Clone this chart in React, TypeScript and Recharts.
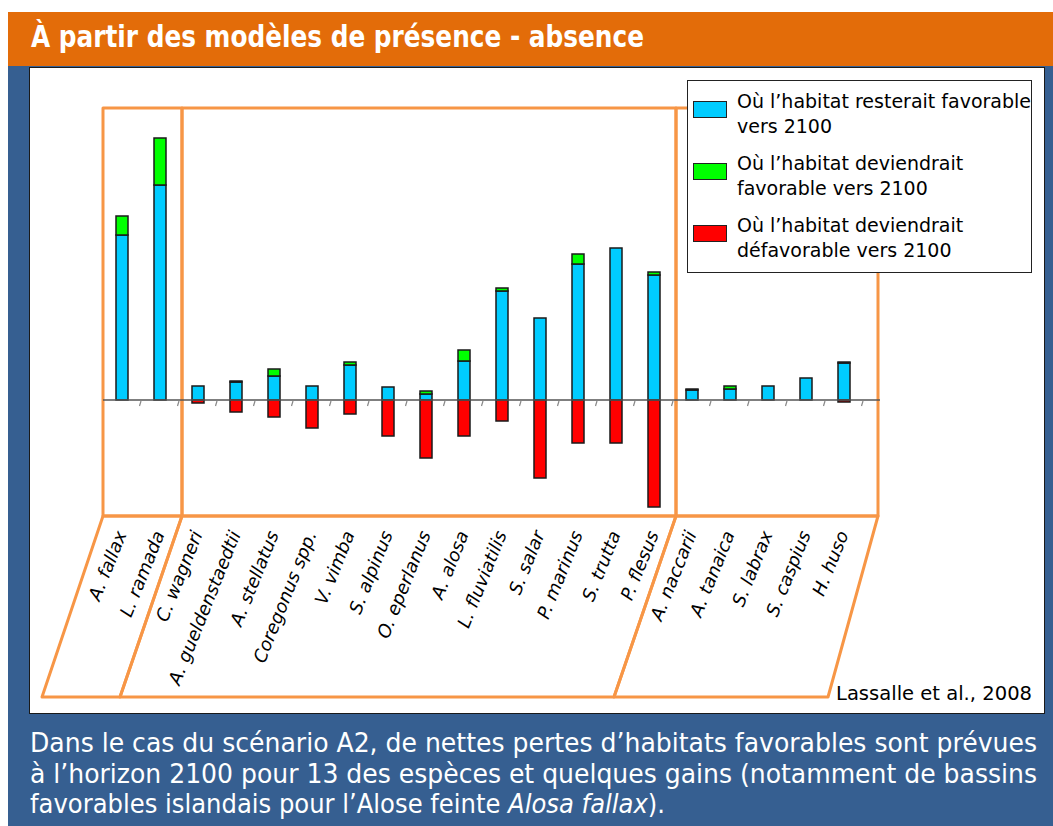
import React from 'react'
import { BarChart, Bar, XAxis, YAxis, ReferenceLine, Legend } from 'recharts'

// espèces (ordre de l'axe)
const species = [
  'A. fallax', 'L. ramada', 'C. wagneri', 'A. gueldenstaedtii', 'A. stellatus',
  'Coregonus spp.', 'V. vimba', 'S. alpinus', 'O. eperlanus', 'A. alosa',
  'L. fluviatilis', 'S. salar', 'P. marinus', 'S. trutta', 'P. flesus',
  'A. naccarii', 'A. tanaica', 'S. labrax', 'S. caspius', 'H. huso',
]

// habitat qui resterait favorable
const resteFavorable = [82.5, 107.5, 7, 9, 12, 7, 17.5, 6.5, 3, 19.5, 54.5, 41, 68, 76, 62.5, 5, 5.5, 7, 11, 18.5]
// habitat qui deviendrait favorable
const devientFavorable = [9.5, 23.5, 0, 0.5, 3.5, 0, 1.5, 0, 1.5, 5.5, 1.5, 0, 5, 0, 1.5, 0.5, 1.5, 0, 0, 0.5]
// habitat qui deviendrait défavorable
const devientDefavorable = [0, 0, -1.5, -6, -8.5, -14, -7, -18, -29, -18, -10.5, -39, -21.5, -21.5, -53.5, 0, 0, 0, 0, -1]

const series = [
  { key: 'reste', lines: ['Où l’habitat resterait favorable', 'vers 2100'], color: '#00CCFF' },
  { key: 'gain', lines: ['Où l’habitat deviendrait', 'favorable vers 2100'], color: '#00FF00' },
  { key: 'perte', lines: ['Où l’habitat deviendrait', 'défavorable vers 2100'], color: '#FF0000' },
]

const data = species.map((name, i) => ({
  name,
  reste: resteFavorable[i],
  gain: devientFavorable[i],
  perte: devientDefavorable[i],
}))

const AXIS_PAD = 17
const FONT = "'DejaVu Sans', Verdana, sans-serif"
const NARROW = "'Liberation Sans Narrow', 'DejaVu Sans Condensed', 'DejaVu Sans', sans-serif"

function SpeciesTick({ x, y, payload }: any) {
  return (
    <g transform={`translate(${x + 5},${y + 10})`}>
      <text
        x={0}
        y={0}
        textAnchor="end"
        transform="rotate(-68)"
        fontFamily={FONT}
        fontStyle="italic"
        fontSize={18}
        fill="#000"
      >
        {payload.value}
      </text>
    </g>
  )
}

function ZeroAxis(props: any) {
  const { x1, x2, y1 } = props
  if (x1 == null) return null
  const band = (x2 - x1 - AXIS_PAD) / species.length
  return (
    <g>
      <line x1={x1} x2={x2} y1={y1} y2={y1} stroke="#555" strokeWidth={1.5} />
      {species.map((s, i) => {
        const t = x1 + (i + 1) * band
        return <line key={s} x1={t} x2={t - 1.5} y1={y1 + 1} y2={y1 + 6} stroke="#888" strokeWidth={1.2} />
      })}
    </g>
  )
}

function LegendBox() {
  return (
    <div
      style={{
        width: 345,
        height: 193,
        boxSizing: 'border-box',
        border: '1.5px solid #222',
        background: '#fff',
        fontFamily: FONT,
        fontSize: 19,
        lineHeight: '25px',
        color: '#000',
        paddingTop: 8,
      }}
    >
      {series.map((s) => (
        <div key={s.key} style={{ position: 'relative', height: 62, paddingLeft: 49 }}>
          <div
            style={{
              position: 'absolute',
              left: 5,
              top: 12,
              width: 34,
              height: 17,
              boxSizing: 'border-box',
              background: s.color,
              border: '1.5px solid #222',
            }}
          />
          {s.lines.map((l) => (
            <div key={l} style={{ whiteSpace: 'nowrap' }}>{l}</div>
          ))}
        </div>
      ))}
    </div>
  )
}

const frame = '#F79646'

export default function App() {
  return (
    <div style={{ position: 'absolute', left: 0, top: 0, width: 1053, height: 826, background: '#fff', overflow: 'hidden' }}>
      <div style={{ position: 'absolute', left: 8, top: 12, width: 1045, height: 54, background: '#E36C09' }} />
      <div style={{ position: 'absolute', left: 8, top: 66, width: 1045, height: 760, background: '#365F91' }} />
      <div
        style={{
          position: 'absolute',
          left: 29,
          top: 67,
          width: 1016,
          height: 647,
          background: '#fff',
          border: '1.5px solid #1a1a1a',
          boxSizing: 'border-box',
        }}
      />

      <svg width={1053} height={826} style={{ position: 'absolute', left: 0, top: 0 }}>
        <text x={31} y={47} fill="#fff" fontFamily={NARROW} fontWeight="bold" fontSize={31} textLength={613} lengthAdjust="spacingAndGlyphs">
          À partir des modèles de présence - absence
        </text>

        <g fill="none" stroke={frame} strokeWidth={3} strokeLinejoin="round">
          <rect x={103} y={108} width={79} height={408} />
          <rect x={182} y={108} width={494} height={408} />
          <rect x={676} y={108} width={202} height={408} />
          <polygon points="103,516 182,516 120,697 42,697" />
          <polygon points="182,516 676,516 614,697 120,697" />
          <polygon points="676,516 878,516 828,697 614,697" />
        </g>

        <text x={836} y={700} fontFamily={FONT} fontSize={19} fill="#000" textLength={196} lengthAdjust="spacingAndGlyphs">
          Lassalle et al., 2008
        </text>

        <g fill="#fff" fontFamily={NARROW} fontSize={26}>
          <text x={30} y={752} textLength={1007} lengthAdjust="spacingAndGlyphs">
            Dans le cas du scénario A2, de nettes pertes d’habitats favorables sont prévues
          </text>
          <text x={30} y={783} textLength={1007} lengthAdjust="spacingAndGlyphs">
            à l’horizon 2100 pour 13 des espèces et quelques gains (notamment de bassins
          </text>
          <text x={30} y={813} textLength={635} lengthAdjust="spacingAndGlyphs">
            favorables islandais pour l’Alose feinte <tspan fontStyle="italic">Alosa fallax</tspan>).
          </text>
        </g>
      </svg>

      <div style={{ position: 'absolute', left: 0, top: 0 }}>
        <BarChart
          width={1053}
          height={826}
          data={data}
          margin={{ top: 108, right: 173, bottom: 120, left: 103 }}
          stackOffset="sign"
          barSize={12}
        >
          <XAxis
            dataKey="name"
            height={190}
            interval={0}
            tickLine={false}
            axisLine={false}
            tick={<SpeciesTick />}
            padding={{ left: 0, right: AXIS_PAD }}
          />
          <YAxis hide domain={[-58, 146]} allowDataOverflow />
          <ReferenceLine y={0} shape={ZeroAxis} />
          {series.map((s) => (
            <Bar
              key={s.key}
              dataKey={s.key}
              stackId="habitat"
              fill={s.color}
              stroke="#1a1a1a"
              strokeWidth={1.5}
              isAnimationActive={false}
            />
          ))}
          <Legend
            layout="vertical"
            align="center"
            verticalAlign="middle"
            wrapperStyle={{ left: 687, top: 80, width: 345 }}
            content={<LegendBox />}
          />
        </BarChart>
      </div>
    </div>
  )
}
